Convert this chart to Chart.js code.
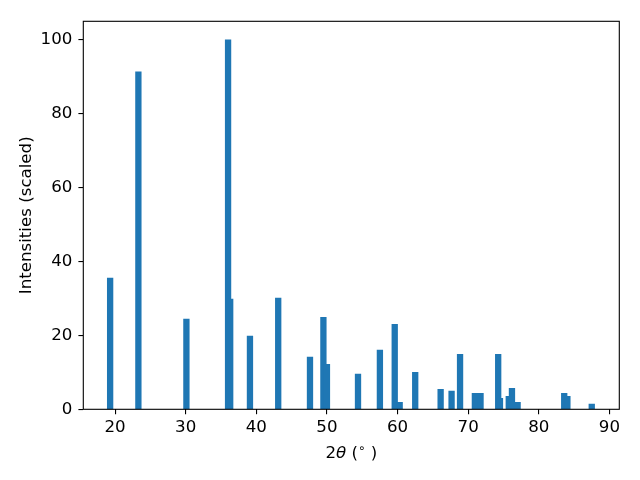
<!DOCTYPE html>
<html>
<head>
<meta charset="utf-8">
<script src="https://cdn.jsdelivr.net/npm/chart.js@4"></script>
<style>
html,body{margin:0;padding:0;background:#fff;}
#wrap{width:640px;height:480px;}
</style>
</head>
<body>
<div id="wrap"><canvas id="c" width="640" height="480"></canvas></div>
<script>
const twoTheta = [19.3, 23.3, 30.1, 36.0, 36.3, 39.1, 43.1, 47.6, 49.5, 50.0, 54.4, 57.5, 59.6, 60.3, 62.5, 66.1, 67.65, 68.85, 70.95, 71.75, 74.25, 74.5, 75.75, 76.2, 77.0, 83.6, 84.05, 87.5];
const intensity = [35.5, 91.3, 24.4, 100.0, 29.8, 19.8, 30.1, 14.1, 24.9, 12.2, 9.5, 16.0, 23.0, 1.9, 10.0, 5.4, 4.9, 14.9, 4.3, 4.3, 14.9, 3.0, 3.5, 5.7, 1.9, 4.3, 3.5, 1.4];
const xTicks = [20, 30, 40, 50, 60, 70, 80, 90];
const yTicks = [0, 20, 40, 60, 80, 100];
const xLabelParts = [["2", "normal"], ["θ", "italic"], [" (", "normal"], ["∘", "sup"], [" )", "normal"]];
const yLabel = "Intensities (scaled)";

const FONT = "'DejaVu Sans', sans-serif";
const FS = 16.67;

const labelPlugin = {
  id: 'labels',
  afterDraw(chart) {
    const ctx = chart.ctx;
    const a = chart.chartArea;
    ctx.save();
    // frame
    ctx.strokeStyle = '#000';
    ctx.lineWidth = 1.1;
    ctx.strokeRect(a.left, a.top, a.right - a.left, a.bottom - a.top);
    // x label
    ctx.fillStyle = '#000';
    ctx.textBaseline = 'alphabetic';
    const fontFor = (s) => s === 'italic' ? `italic ${FS}px ${FONT}` : (s === 'sup' ? `${FS * 0.7}px ${FONT}` : `${FS}px ${FONT}`);
    let total = 0;
    for (const [t, s] of xLabelParts) { ctx.font = fontFor(s); total += ctx.measureText(t).width; }
    let x = (a.left + a.right) / 2 - total / 2;
    const base = 457.5;
    for (const [t, s] of xLabelParts) {
      ctx.font = fontFor(s);
      ctx.textAlign = 'left';
      ctx.fillText(t, x, s === 'sup' ? base - 6 : base);
      x += ctx.measureText(t).width;
    }
    // y label
    ctx.font = `${FS}px ${FONT}`;
    ctx.translate(31, (a.top + a.bottom) / 2);
    ctx.rotate(-Math.PI / 2);
    ctx.textAlign = 'center';
    ctx.fillText(yLabel, 0, 0);
    ctx.restore();
  }
};

new Chart(document.getElementById('c'), {
  type: 'bar',
  data: {
    datasets: [{
      data: twoTheta.map((t, i) => ({ x: t, y: intensity[i] })),
      backgroundColor: '#1f77b4',
      borderWidth: 0,
      barThickness: 5.65
    }]
  },
  options: {
    responsive: false,
    animation: false,
    devicePixelRatio: 1,
    layout: { padding: { left: 0, right: 20.7, top: 21.3, bottom: 0 } },
    plugins: { legend: { display: false }, tooltip: { enabled: false } },
    scales: {
      x: {
        type: 'linear',
        min: 15.5,
        max: 91.4,
        offset: false,
        grid: { offset: false, drawOnChartArea: false, drawTicks: true, tickLength: 4.9, color: '#000', lineWidth: 1.1 },
        border: { display: false },
        ticks: { color: '#000', font: { family: FONT, size: FS }, padding: 3.5, maxRotation: 0, autoSkip: false },
        afterBuildTicks: (s) => { s.ticks = xTicks.map(v => ({ value: v })); },
        afterFit: (s) => { s.height = 70.7; }
      },
      y: {
        type: 'linear',
        min: 0,
        max: 105,
        grid: { drawOnChartArea: false, drawTicks: true, tickLength: 4.9, color: '#000', lineWidth: 1.1 },
        border: { display: false },
        ticks: { color: '#000', font: { family: FONT, size: FS }, padding: 6, autoSkip: false },
        afterBuildTicks: (s) => { s.ticks = yTicks.map(v => ({ value: v })); },
        afterFit: (s) => { s.width = 83.3; }
      }
    }
  },
  plugins: [labelPlugin]
});
</script>
</body>
</html>
